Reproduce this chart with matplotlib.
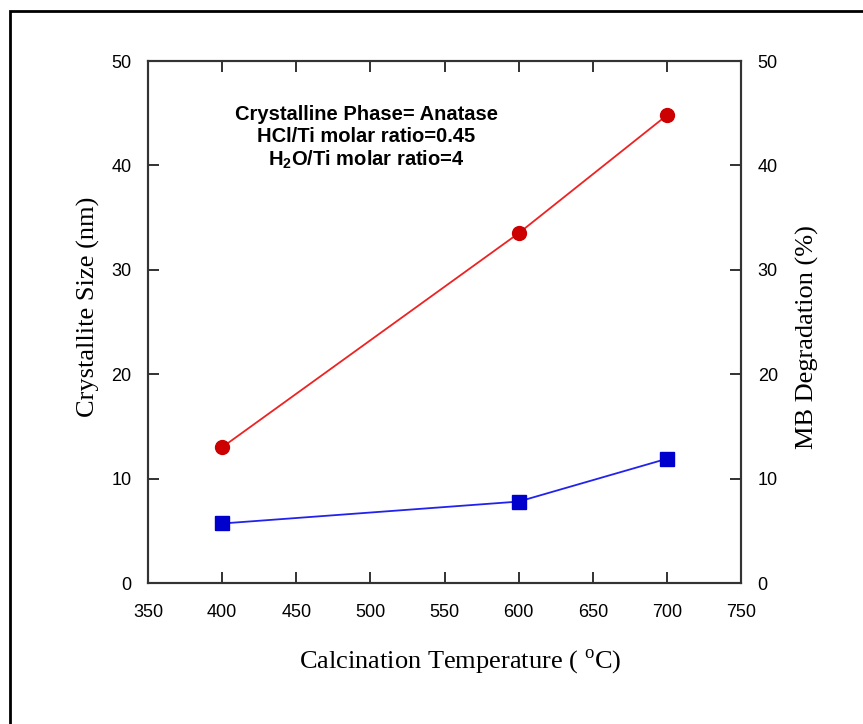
import matplotlib.pyplot as plt
from matplotlib.patches import Rectangle

# Datos
temperature = [400, 600, 700]                 # Calcination temperature (°C)
crystallite_size = [5.7, 7.8, 11.9]           # nm (eje izquierdo)
mb_degradation = [13.0, 33.5, 44.8]           # % (eje derecho)

x_ticks = [350, 400, 450, 500, 550, 600, 650, 700, 750]
y_ticks = [0, 10, 20, 30, 40, 50]

plt.rcParams['mathtext.fontset'] = 'custom'
plt.rcParams['mathtext.rm'] = 'Liberation Serif'
plt.rcParams['mathtext.bf'] = 'Liberation Sans:bold'

fig = plt.figure(figsize=(8.63, 7.24), dpi=100)
ax = fig.add_axes([148 / 863, 141 / 724, 593 / 863, 522 / 724])
ax2 = ax.twinx()

# marco exterior
fig.patches.append(Rectangle((10 / 863, -0.1), 1.2, (724 - 11) / 724 + 0.1,
                             transform=fig.transFigure, fill=False,
                             edgecolor='black', linewidth=2, clip_on=False))

ax.plot(temperature, crystallite_size, color='#2222ee', linewidth=1.3,
        marker='s', markersize=9.5, markerfacecolor='#0000cc', markeredgecolor='#0000cc')
ax2.plot(temperature, mb_degradation, color='#ee2222', linewidth=1.3,
         marker='o', markersize=10, markerfacecolor='#cc0000', markeredgecolor='#cc0000')

for a in (ax, ax2):
    a.set_ylim(0, 50)
    a.set_yticks(y_ticks)
    for s in a.spines.values():
        s.set_color('#333333')
        s.set_linewidth(1.5)

ax.set_xlim(350, 750)
ax.set_xticks(x_ticks)

ax.tick_params(axis='both', direction='in', length=8, width=1.3, color='#222222',
               top=True, labelsize=13, pad=15)
ax.tick_params(axis='y', pad=12)
ax2.tick_params(axis='y', direction='in', length=8, width=1.3, color='#222222',
                labelsize=13, pad=12)
for lbl in ax.get_xticklabels() + ax.get_yticklabels() + ax2.get_yticklabels():
    lbl.set_fontfamily('Liberation Sans')

ax.set_xlabel(r'Calcination Temperature ( $^{\mathrm{o}}$C)', fontfamily='Liberation Serif',
              fontsize=19)
ax.set_ylabel('Crystallite Size (nm)', fontfamily='Liberation Serif', fontsize=19)
ax2.set_ylabel('MB Degradation (%)', fontfamily='Liberation Serif', fontsize=19)
ax.xaxis.set_label_coords(0.526, -0.1226)
ax.yaxis.set_label_coords(-0.081, 0.529)
ax2.yaxis.set_label_coords(1.093, 0.471)

ax.text(0.368, 0.915, 'Crystalline Phase= Anatase\nHCl/Ti molar ratio=0.45\n'
        r'H$_{\mathbf{2}}$O/Ti molar ratio=4',
        transform=ax.transAxes, ha='center', va='top', fontfamily='Liberation Sans',
        fontweight='bold', fontsize=14.5, linespacing=1.18)

plt.savefig('out.png', dpi=100)
